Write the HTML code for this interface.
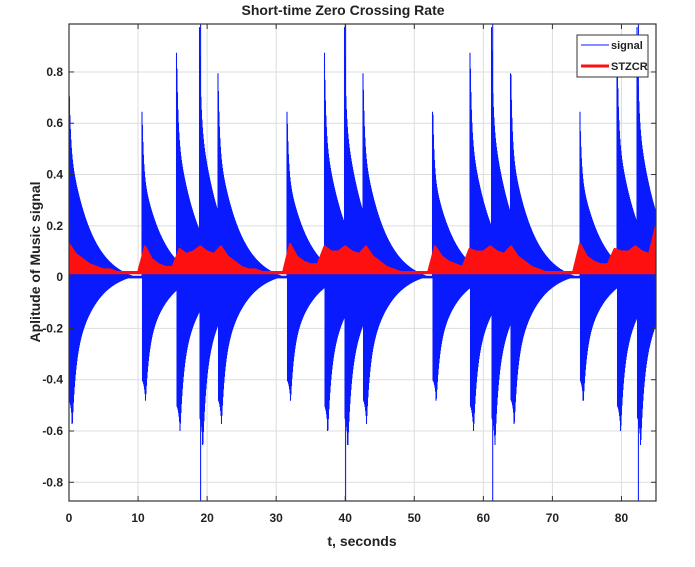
<!DOCTYPE html>
<html><head><meta charset="utf-8"><style>
body{margin:0;background:#fff;}
svg text{font-family:"Liberation Sans",Arial,sans-serif;}
</style></head><body>
<svg id="chart" width="695" height="562" xmlns="http://www.w3.org/2000/svg">
<text x="343" y="15" text-anchor="middle" font-size="14" font-weight="bold" fill="#222">Short-time Zero Crossing Rate</text>
<text x="362" y="546" text-anchor="middle" font-size="14" font-weight="bold" fill="#222">t, seconds</text>
<text transform="translate(40,262) rotate(-90)" text-anchor="middle" font-size="14" font-weight="bold" fill="#222">Aplitude of Music signal</text>
<g id="grid"></g>
<defs><clipPath id="pc"><rect x="69" y="24" width="587" height="477"/></clipPath></defs>
<g clip-path="url(#pc)">
<path id="sig" fill="none" stroke="#0a1aff" stroke-width="1.05"/>
<path id="zcr" fill="#ff1010" stroke="#ff1010" stroke-width="2" stroke-linejoin="round"/>
</g>
<rect x="69" y="24" width="587" height="477" fill="none" stroke="#333" stroke-width="1.2"/>
<g id="ticks"></g>
<g>
<rect x="577" y="35" width="71" height="42" fill="#fff" stroke="#333" stroke-width="1"/>
<g><line x1="581" y1="45" x2="609" y2="45" stroke="#0a1aff" stroke-width="1"/><text x="611" y="49" font-size="11" font-weight="bold" fill="#222">signal</text></g>
<g><line x1="581" y1="66" x2="609" y2="66" stroke="#ff1010" stroke-width="3"/><text x="611" y="70" font-size="11" font-weight="bold" fill="#222">STZCR</text></g>
</g>
</svg>
<script>
const xTicks=[0,10,20,30,40,50,60,70,80];
const yTicks=[-0.8,-0.6,-0.4,-0.2,0,0.2,0.4,0.6,0.8];
const noteOnsets=[0,10.6,15.6,18.9,21.6,31.6,37.0,39.9,42.6,52.7,58.1,61.2,64.0,74.0,79.4,82.3];
const notePeaks=[0.83,0.67,0.9,1.0,0.82,0.67,0.9,1.0,0.82,0.67,0.9,1.0,0.82,0.67,0.9,1.0];
const noteTroughs=[-0.66,-0.56,-0.69,-0.75,-0.66,-0.56,-0.69,-0.75,-0.66,-0.56,-0.69,-0.75,-0.66,-0.56,-0.69,-0.75];
const zcrValues=[0.13,0.09,0.07,0.05,0.04,0.03,0.03,0.02,0.02,0.02,
0.02,0.12,0.07,0.05,0.04,0.04,0.11,0.09,0.10,0.12,
0.10,0.09,0.12,0.08,0.06,0.04,0.03,0.03,0.02,0.02,
0.02,0.02,0.13,0.08,0.06,0.05,0.05,0.12,0.10,0.10,
0.12,0.10,0.09,0.12,0.08,0.06,0.04,0.03,0.02,0.02,
0.02,0.02,0.02,0.12,0.08,0.06,0.05,0.04,0.11,0.10,
0.10,0.12,0.10,0.09,0.12,0.08,0.06,0.04,0.03,0.02,
0.02,0.02,0.02,0.02,0.13,0.08,0.06,0.05,0.05,0.11,
0.10,0.10,0.12,0.10,0.09,0.20];
const X0=69,X1=656,Y0=501,Y1=24,TMAX=85,YMIN=-0.873,YMAX=0.987;
const sx=t=>X0+(t/TMAX)*(X1-X0);
const sy=v=>Y0-(v-YMIN)/(YMAX-YMIN)*(Y0-Y1);
const NS='http://www.w3.org/2000/svg';
const grid=document.getElementById('grid'),ticks=document.getElementById('ticks');
function mk(tag,attrs,parent){const e=document.createElementNS(NS,tag);for(const k in attrs)e.setAttribute(k,attrs[k]);parent.appendChild(e);return e;}
xTicks.forEach(t=>{
 const g=mk('line',{x1:sx(t),x2:sx(t),y1:Y1,y2:Y0,stroke:'#ddd','stroke-width':1},grid);
 
 
 mk('line',{x1:sx(t),x2:sx(t),y1:Y0,y2:Y0-5,stroke:'#333'},ticks);
 mk('line',{x1:sx(t),x2:sx(t),y1:Y1,y2:Y1+5,stroke:'#333'},ticks);
 const tx=mk('text',{x:sx(t),y:Y0+21,'text-anchor':'middle','font-size':12,'font-weight':'bold',fill:'#222'},ticks);
 tx.textContent=t;
 
 
});
yTicks.forEach(v=>{
 const g=mk('line',{x1:X0,x2:X1,y1:sy(v),y2:sy(v),stroke:'#ddd','stroke-width':1},grid);
 
 
 mk('line',{x1:X0,x2:X0+5,y1:sy(v),y2:sy(v),stroke:'#333'},ticks);
 mk('line',{x1:X1,x2:X1-5,y1:sy(v),y2:sy(v),stroke:'#333'},ticks);
 const tx=mk('text',{x:X0-6,y:sy(v)+4,'text-anchor':'end','font-size':12,'font-weight':'bold',fill:'#222'},ticks);
 tx.textContent=(Math.round(v*10)/10).toString();
 
 
});
function shape(dt,delay,w){return 0.35*Math.exp(-Math.abs(dt-delay)/w)+0.65*Math.exp(-dt/3.2);}
function envUp(t){let m=0;for(let i=0;i<noteOnsets.length;i++){const dt=t-noteOnsets[i];if(dt<0)continue;m=Math.max(m,notePeaks[i]*shape(dt,0,0.2));}return m;}
function envDn(t){let m=0;for(let i=0;i<noteOnsets.length;i++){const dt=t-noteOnsets[i];if(dt<0)continue;m=Math.min(m,noteTroughs[i]*shape(dt,0.5,0.45));}return m;}
let d='';
for(let px=X0;px<=X1;px+=0.5){
 const t0=(px-X0)/(X1-X0)*TMAX,t1=t0+0.5/(X1-X0)*TMAX;
 let tt=t0;for(const o of noteOnsets){if(o>=t0&&o<t1)tt=o;}
 let td=t0;for(const o of noteOnsets){if(o+0.5>=t0&&o+0.5<t1)td=o+0.5;}
 const up=Math.min(1.2,Math.max(0.005,envUp(tt)-0.025));
 const dn=Math.max(-1.2,Math.min(-0.005,envDn(td)+0.025));
 d+='M'+px.toFixed(1)+' '+sy(up).toFixed(1)+'V'+sy(dn).toFixed(1);
}
// full-range thin spikes at the loudest notes
noteOnsets.forEach((o,i)=>{if(notePeaks[i]>=1.0){d+='M'+sx(o+0.15).toFixed(1)+' '+sy(1.2)+'V'+sy(-1.2);}});
document.getElementById('sig').setAttribute('d',d);
let z='M'+sx(0)+' '+sy(0.015);
zcrValues.forEach((v,i)=>{z+='L'+sx(i).toFixed(1)+' '+sy(v).toFixed(1);});
z+='L'+sx(zcrValues.length-1).toFixed(1)+' '+sy(0.015)+'Z';
document.getElementById('zcr').setAttribute('d',z);
</script>
</body></html>
